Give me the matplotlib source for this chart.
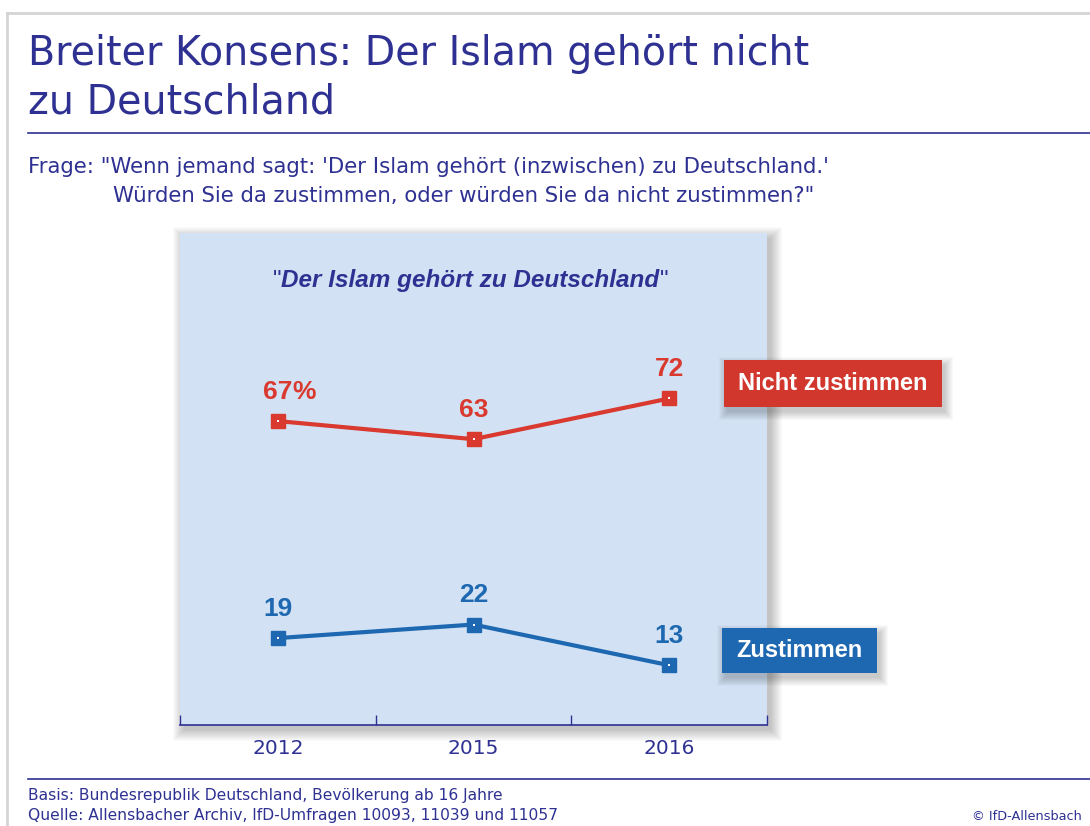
import matplotlib
matplotlib.use("Agg")
import matplotlib.pyplot as plt
from matplotlib.patches import Rectangle
from matplotlib.lines import Line2D

# ---- data ----
years = ["2012", "2015", "2016"]
nicht_zustimmen = [67, 63, 72]
zustimmen = [19, 22, 13]
series_labels = ["Nicht zustimmen", "Zustimmen"]

title_line1 = "Breiter Konsens: Der Islam gehört nicht"
title_line2 = "zu Deutschland"
frage1 = "Frage: \"Wenn jemand sagt: 'Der Islam gehört (inzwischen) zu Deutschland.'"
frage2 = "Würden Sie da zustimmen, oder würden Sie da nicht zustimmen?\""
panel_title = "Der Islam gehört zu Deutschland"
basis = "Basis: Bundesrepublik Deutschland, Bevölkerung ab 16 Jahre"
quelle = "Quelle: Allensbacher Archiv, IfD-Umfragen 10093, 11039 und 11057"
copyright_txt = "© IfD-Allensbach"

W, H = 1090, 826
NAVY = "#2e3192"
RED = "#d9392e"
REDBOX = "#d1372c"
BLUE = "#1e68b1"
PANEL = "#d2e2f4"
FONT = "DejaVu Sans"
NUMFONT = "Liberation Sans"

fig = plt.figure(figsize=(W / 100, H / 100), dpi=100)
fig.patch.set_facecolor("white")


def fx(x):
    return x / W


def fy(y):
    return 1 - y / H


def frect(x0, y0, x1, y1, **kw):
    r = Rectangle((fx(x0), fy(y1)), fx(x1) - fx(x0), fy(y0) - fy(y1),
                  transform=fig.transFigure, **kw)
    fig.add_artist(r)
    return r


def shadow(x0, y0, x1, y1, z, dx=4, dy=5, n=12, a=0.018):
    # soft drop shadow: stacked, progressively larger translucent rectangles
    for i in range(n):
        frect(x0 + dx - i, y0 + dy - i, x1 + dx + i, y1 + dy + i,
              facecolor="black", edgecolor="none", alpha=a, zorder=z)


# outer frame lines
fig.add_artist(Line2D([fx(7), fx(W)], [fy(13), fy(13)], color="#d5d5d5", lw=2,
                      transform=fig.transFigure))
fig.add_artist(Line2D([fx(7), fx(7)], [fy(13), fy(H)], color="#d5d5d5", lw=2,
                      transform=fig.transFigure))

# title
fig.text(fx(28), fy(65), title_line1, fontsize=28.5, color=NAVY,
         family=FONT, va="baseline", ha="left")
fig.text(fx(28), fy(113), title_line2, fontsize=28.5, color=NAVY,
         family=FONT, va="baseline", ha="left")
fig.add_artist(Line2D([fx(28), fx(W)], [fy(133), fy(133)], color=NAVY, lw=1.2,
                      transform=fig.transFigure))

# question
fig.text(fx(28), fy(173), frage1, fontsize=15.3, color=NAVY, family=FONT,
         va="baseline")
fig.text(fx(113), fy(202), frage2, fontsize=15.3, color=NAVY, family=FONT,
         va="baseline")

# panel shadow
px0, py0, px1, py1 = 180, 233, 767, 725
shadow(px0, py0, px1, py1, z=-1)

ax = fig.add_axes([fx(px0), fy(py1), fx(px1) - fx(px0), fy(py0) - fy(py1)], zorder=1)
ax.set_facecolor(PANEL)
x = list(range(len(years)))
ax.set_xlim(-0.5, len(years) - 0.5)
ax.set_ylim(-0.22, 108.6)

for vals, col in [(nicht_zustimmen, RED), (zustimmen, BLUE)]:
    ax.plot(x, vals, color=col, lw=3, marker="s", ms=10, mfc=col, mec=col,
            solid_joinstyle="miter", zorder=3)
    ax.plot(x, vals, ls="none", marker="s", ms=2.0, mfc="white", mew=0, zorder=4)
    for i, v in enumerate(vals):
        t = ax.annotate(str(v), (i, v), xytext=(0, 21), textcoords="offset points",
                        ha="center", va="center", fontsize=19, fontweight="bold",
                        color=col, family=NUMFONT, zorder=5)
        if i == 0 and col == RED:
            ax.annotate("%", xy=(1, 0), xycoords=t, ha="left", va="bottom",
                        fontsize=19, fontweight="bold", color=col, family=NUMFONT)

# panel title
t_main = ax.text(0.495, 0.89, panel_title, transform=ax.transAxes, ha="center",
                 va="baseline", fontsize=17.5, color=NAVY, family=NUMFONT,
                 fontweight="bold", style="italic")
ax.annotate('"', xy=(0, 0), xycoords=t_main, ha="right", va="bottom",
            fontsize=17.5, color=NAVY, family=NUMFONT)
ax.annotate('"', xy=(1, 0), xycoords=t_main, ha="left", va="bottom",
            fontsize=17.5, color=NAVY, family=NUMFONT)

# axes styling
for s in ["top", "left", "right"]:
    ax.spines[s].set_visible(False)
ax.spines["bottom"].set_color(NAVY)
ax.spines["bottom"].set_linewidth(1.2)
ax.set_yticks([])
ax.set_xticks(x)
ax.set_xticklabels(years, fontsize=14.5, color=NAVY, family=FONT)
ax.tick_params(axis="x", which="major", length=0, pad=10)
ax.set_xticks([i - 0.5 for i in range(len(years) + 1)], minor=True)
ax.tick_params(axis="x", which="minor", length=7.5, width=1, color=NAVY, direction="in")

# legend boxes
boxes = [((724, 360, 942, 407), REDBOX, series_labels[0]),
         ((722, 628, 877, 673), BLUE, series_labels[1])]
for (x0, y0, x1, y1), col, lab in boxes:
    shadow(x0, y0, x1, y1, z=4, dx=3, dy=5, n=9, a=0.025)
    frect(x0, y0, x1, y1, facecolor=col, edgecolor="none", zorder=5)
    fig.text(fx((x0 + x1) / 2), fy((y0 + y1) / 2), lab, ha="center", va="center",
             fontsize=17, fontweight="bold", color="white", family=NUMFONT, zorder=6)

# footer
fig.add_artist(Line2D([fx(28), fx(W)], [fy(779), fy(779)], color=NAVY, lw=1.2,
                      transform=fig.transFigure))
fig.text(fx(28), fy(800), basis, fontsize=11.2, color=NAVY, family=FONT,
         va="baseline")
fig.text(fx(28), fy(820), quelle, fontsize=11.2, color=NAVY, family=FONT,
         va="baseline")
fig.text(fx(1082), fy(820), copyright_txt, fontsize=9.3, color=NAVY, family=FONT,
         va="baseline", ha="right")

fig.savefig("out.png", dpi=100)
